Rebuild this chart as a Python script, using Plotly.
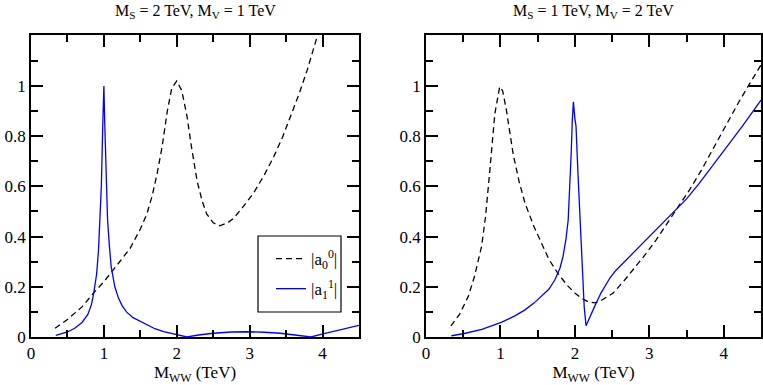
import plotly.graph_objects as go

# left panel: M_S = 2 TeV, M_V = 1 TeV
left_a00_x = [0.33, 0.5, 0.7, 0.86, 1.0, 1.13, 1.25, 1.36, 1.5, 1.59, 1.66, 1.73, 1.8, 1.87,
              1.93, 2.0, 2.07, 2.14, 2.2, 2.28, 2.35, 2.41, 2.5, 2.59, 2.7, 2.78, 2.9, 3.05,
              3.2, 3.33, 3.45, 3.56, 3.68, 3.79, 3.9, 3.95]
left_a00_y = [0.035, 0.07, 0.12, 0.176, 0.22, 0.267, 0.31, 0.353, 0.43, 0.49, 0.56, 0.65, 0.76, 0.9,
              0.99, 1.02, 0.98, 0.88, 0.76, 0.62, 0.54, 0.49, 0.455, 0.443, 0.455, 0.473, 0.515, 0.572,
              0.645, 0.718, 0.795, 0.878, 0.97, 1.064, 1.17, 1.22]

left_a11_x = [0.34, 0.5, 0.6, 0.7, 0.78, 0.83, 0.86, 0.9, 0.925, 0.945, 0.965, 0.985, 1.0, 1.012,
              1.03, 1.05, 1.076, 1.1, 1.15, 1.2, 1.25, 1.31, 1.4, 1.54, 1.7, 1.82, 2.0, 2.14,
              2.3, 2.5, 2.75, 2.96, 3.2, 3.42, 3.65, 3.84, 4.02, 4.25, 4.5]
left_a11_y = [0.006, 0.02, 0.035, 0.058, 0.09, 0.13, 0.174, 0.25, 0.34, 0.45, 0.6, 0.85, 1.0, 0.85,
              0.62, 0.47, 0.36, 0.28, 0.2, 0.155, 0.125, 0.1, 0.077, 0.055, 0.033, 0.021, 0.008, 0.0,
              0.008, 0.015, 0.02, 0.021, 0.019, 0.015, 0.007, 0.0, 0.013, 0.03, 0.046]

# right panel: M_S = 1 TeV, M_V = 2 TeV
right_a00_x = [0.335, 0.45, 0.567, 0.65, 0.746, 0.8, 0.858, 0.925, 0.99, 1.03, 1.08, 1.17, 1.25,
               1.33, 1.45, 1.55, 1.65, 1.77, 1.9, 2.0, 2.09, 2.18, 2.27, 2.35, 2.51, 2.65, 2.78,
               2.95, 3.09, 3.22, 3.36, 3.54, 3.7, 3.85, 4.0, 4.2, 4.35, 4.5]
right_a00_y = [0.044, 0.09, 0.161, 0.24, 0.36, 0.48, 0.665, 0.89, 0.997, 0.98, 0.904, 0.73, 0.62,
               0.533, 0.44, 0.373, 0.31, 0.254, 0.205, 0.175, 0.154, 0.14, 0.136, 0.145, 0.174, 0.22, 0.267,
               0.33, 0.386, 0.445, 0.506, 0.586, 0.665, 0.745, 0.83, 0.935, 1.01, 1.084]

right_a11_x = [0.34, 0.5, 0.75, 1.01, 1.2, 1.33, 1.45, 1.55, 1.65, 1.73, 1.8, 1.84, 1.88, 1.91,
               1.93, 1.95, 1.965, 1.98, 2.0, 2.015, 2.04, 2.07, 2.1, 2.125, 2.15, 2.2, 2.27, 2.35,
               2.41, 2.47, 2.55, 2.65, 2.78, 2.95, 3.09, 3.36, 3.5, 3.67, 3.85, 4.01, 4.25, 4.5]
right_a11_y = [0.005, 0.013, 0.03, 0.058, 0.085, 0.108, 0.135, 0.161, 0.19, 0.227, 0.275, 0.32, 0.39, 0.466,
               0.58, 0.73, 0.86, 0.937, 0.87, 0.84, 0.66, 0.45, 0.267, 0.12, 0.045, 0.08, 0.125, 0.175,
               0.207, 0.235, 0.265, 0.295, 0.333, 0.385, 0.426, 0.506, 0.55, 0.612, 0.68, 0.745, 0.84, 0.944]

titles = ["M<sub>S</sub> = 2 TeV, M<sub>V</sub> = 1 TeV", "M<sub>S</sub> = 1 TeV, M<sub>V</sub> = 2 TeV"]
names = ["|a<sub>0</sub><sup>0</sup>|", "|a<sub>1</sub><sup>1</sup>|"]

FONT = "'Liberation Serif', 'Times New Roman', Times, serif"
TICKFONT = dict(family="Times New Roman", size=17, color="black")
dash_style = dict(color="black", width=1.3, dash="6px,4px")
blue_style = dict(color="#0000ff", width=1.3)

fig = go.Figure()
fig.add_trace(go.Scatter(x=left_a00_x, y=left_a00_y, mode="lines", line=dash_style,
                         name=names[0], legendgroup="a", xaxis="x", yaxis="y"))
fig.add_trace(go.Scatter(x=left_a11_x, y=left_a11_y, mode="lines", line=blue_style,
                         name=names[1], legendgroup="b", xaxis="x", yaxis="y"))
fig.add_trace(go.Scatter(x=right_a00_x, y=right_a00_y, mode="lines", line=dash_style,
                         showlegend=False, xaxis="x2", yaxis="y2"))
fig.add_trace(go.Scatter(x=right_a11_x, y=right_a11_y, mode="lines", line=blue_style,
                         showlegend=False, xaxis="x2", yaxis="y2"))

W, H = 763, 385
ML, MR, MT, MB = 31, 2, 35, 48
PW = W - ML - MR
PH = H - MT - MB

def xax(domain, anchor):
    return dict(domain=domain, anchor=anchor, range=[0, 4.5], dtick=1, tick0=0, automargin=False,
                showline=True, mirror="allticks", linecolor="black", linewidth=1.5,
                ticks="inside", ticklen=12, tickwidth=1.5, tickcolor="black",
                minor=dict(dtick=0.5, tick0=0, ticks="inside", ticklen=7, tickwidth=1.5, tickcolor="black"),
                showgrid=False, zeroline=False,
                tickfont=TICKFONT,
                title=dict(text="M<sub>WW</sub> (TeV)", font=dict(family=FONT, size=17, color="black"),
                           standoff=2))

def yax(anchor):
    return dict(domain=[0, 1], anchor=anchor, range=[0, 1.203], automargin=False,
                tickvals=[0, 0.2, 0.4, 0.6, 0.8, 1.0],
                showline=True, mirror="allticks", linecolor="black", linewidth=1.5,
                ticks="inside", ticklen=12, tickwidth=1.5, tickcolor="black",
                minor=dict(tickmode="linear", dtick=0.1, tick0=0, ticks="inside", ticklen=7,
                           tickwidth=1.5, tickcolor="black"),
                showgrid=False, zeroline=False,
                tickfont=TICKFONT)

def px_x(p):
    return (p - ML) / PW

def px_y(p):
    return 1 - (p - MT) / PH

fig.update_layout(
    width=W, height=H,
    margin=dict(l=ML, r=MR, t=MT, b=MB, autoexpand=False),
    paper_bgcolor="white", plot_bgcolor="white",
    font=dict(family=FONT, size=17, color="black"),
    xaxis=xax([0, px_x(359)], "y"),
    yaxis=yax("x"),
    xaxis2=xax([px_x(426), 1], "y2"),
    yaxis2=yax("x2"),
    legend=dict(x=px_x(343), xanchor="right", y=px_y(241), yanchor="top",
                borderwidth=0, bgcolor="rgba(0,0,0,0)", tracegroupgap=5,
                font=dict(family="Times New Roman", size=17, color="black")),
    showlegend=True,
)

# legend frame
fig.add_shape(type="rect", xref="paper", yref="paper", layer="above",
              x0=px_x(258), x1=px_x(341), y0=px_y(312), y1=px_y(236),
              line=dict(color="black", width=1.2), fillcolor="white")

for i, t in enumerate(titles):
    fig.add_annotation(text=t, xref="x domain" if i == 0 else "x2 domain", yref="paper",
                       x=0.5, y=1 + (MT - 11) / PH, yanchor="middle", showarrow=False,
                       font=dict(family=FONT, size=16, color="black"))

fig.write_html("out.html", config={"displayModeBar": False},
               post_script="document.body.style.margin='0';document.body.style.overflow='hidden';")
